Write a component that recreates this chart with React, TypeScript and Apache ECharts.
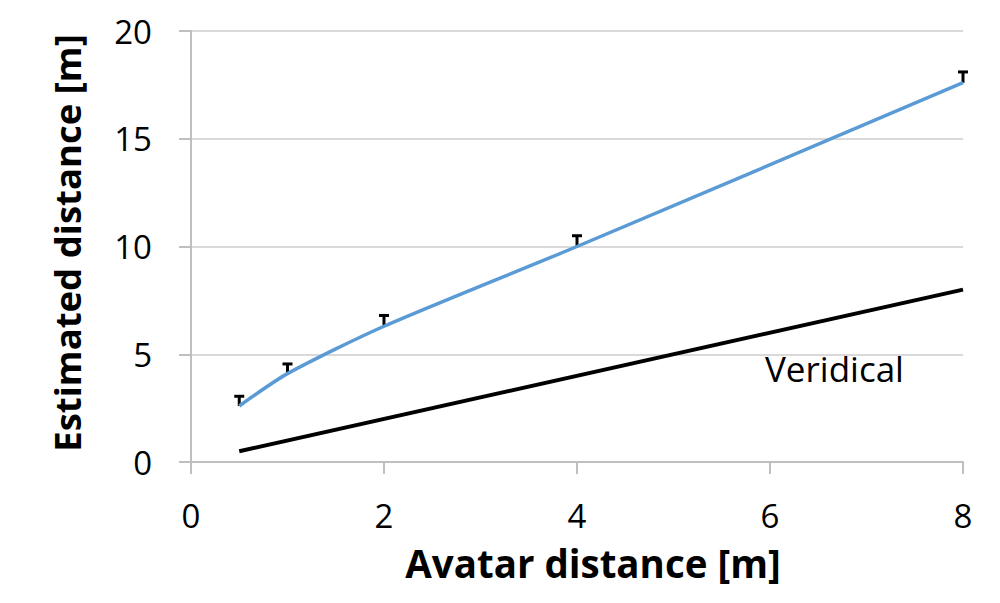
import React, { useEffect, useRef } from "react";
import * as echarts from "echarts";

const avatarDistance = [0.5, 1, 2, 4, 8];
const estimated = [2.6, 4.1, 6.3, 10.0, 17.6];
const errorTop = [3.05, 4.55, 6.8, 10.5, 18.1];
const veridicalX = [0.5, 8];
const veridicalY = [0.5, 8];
const xTicks = { min: 0, max: 8, interval: 2 };
const yTicks = { min: 0, max: 20, interval: 5 };

const FONT = "Open Sans";

export default function App() {
  const ref = useRef<HTMLDivElement>(null);
  useEffect(() => {
    if (!ref.current) return;
    const chart = echarts.init(ref.current, null, { renderer: "svg" });
    const errData = avatarDistance.map((x, i) => [x, estimated[i], errorTop[i]]);
    chart.setOption({
      animation: false,
      backgroundColor: "#ffffff",
      grid: { left: 191, right: 37, top: 31, bottom: 141, containLabel: false },
      xAxis: {
        type: "value",
        min: xTicks.min,
        max: xTicks.max,
        interval: xTicks.interval,
        axisLine: { show: true, lineStyle: { color: "#bfbfbf", width: 2 } },
        axisTick: { show: true, length: 12, inside: false, lineStyle: { color: "#bfbfbf", width: 2 } },
        axisLabel: { fontFamily: FONT, fontSize: 33, color: "#000", margin: 37 },
        splitLine: { show: false },
      },
      yAxis: {
        type: "value",
        min: yTicks.min,
        max: yTicks.max,
        interval: yTicks.interval,
        axisLine: { show: true, lineStyle: { color: "#bfbfbf", width: 2 } },
        axisTick: { show: true, length: 12, inside: false, lineStyle: { color: "#bfbfbf", width: 2 } },
        axisLabel: { fontFamily: FONT, fontSize: 33, color: "#000", margin: 39 },
        splitLine: { show: true, lineStyle: { color: "#d9d9d9", width: 2 } },
      },
      series: [
        {
          name: "Veridical",
          type: "line",
          data: veridicalX.map((x, i) => [x, veridicalY[i]]),
          showSymbol: false,
          lineStyle: { color: "#000", width: 4 },
          z: 2,
        },
        {
          name: "Estimated",
          type: "line",
          data: avatarDistance.map((x, i) => [x, estimated[i]]),
          showSymbol: false,
          smooth: 0.25,
          lineStyle: { color: "#5b9bd5", width: 3.5 },
          z: 3,
        },
        {
          name: "Error",
          type: "custom",
          data: errData,
          z: 1,
          renderItem: (params: any, api: any) => {
            const x = api.value(0);
            const lo = api.coord([x, api.value(1)]);
            const hi = api.coord([x, api.value(2)]);
            const cap = 5;
            return {
              type: "group",
              children: [
                {
                  type: "line",
                  shape: { x1: lo[0], y1: lo[1], x2: hi[0], y2: hi[1] },
                  style: { stroke: "#000", lineWidth: 3 },
                },
                {
                  type: "line",
                  shape: { x1: hi[0] - cap, y1: hi[1], x2: hi[0] + cap, y2: hi[1] },
                  style: { stroke: "#000", lineWidth: 3 },
                },
              ],
            };
          },
        },
      ],
      graphic: [
        {
          type: "text",
          x: 765,
          y: 368,
          style: {
            text: "Veridical",
            fontFamily: FONT,
            fontSize: 35,
            fill: "#000",
            textAlign: "left",
            textVerticalAlign: "middle",
          },
        },
        {
          type: "text",
          x: 593,
          y: 563,
          style: {
            text: "Avatar distance [m]",
            fontFamily: FONT,
            fontWeight: "bold",
            fontSize: 38.5,
            fill: "#000",
            textAlign: "center",
            textVerticalAlign: "middle",
          },
        },
        {
          type: "text",
          x: 67,
          y: 243,
          rotation: Math.PI / 2,
          style: {
            text: "Estimated distance [m]",
            fontFamily: FONT,
            fontWeight: "bold",
            fontSize: 36.5,
            fill: "#000",
            textAlign: "center",
            textVerticalAlign: "middle",
          },
        },
      ],
    });
    return () => chart.dispose();
  }, []);
  return (
    <div
      ref={ref}
      style={{ position: "fixed", left: 0, top: 0, width: 1000, height: 603, background: "#fff" }}
    />
  );
}
